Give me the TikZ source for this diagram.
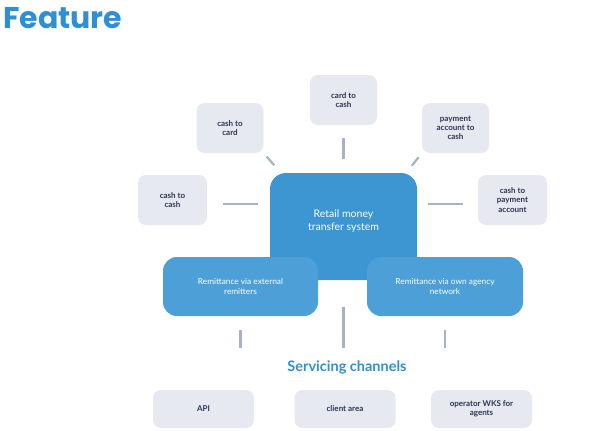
\documentclass[tikz,border=0pt]{standalone}
\usepackage{fontspec}
\setmainfont{Lato}
\newfontfamily\headfont{Poppins}
\usetikzlibrary{arrows.meta}

\definecolor{headblue}{HTML}{2F8FD5}
\definecolor{sysblue}{HTML}{3D95D1}
\definecolor{remitblue}{HTML}{4C9FD7}
\definecolor{boxgray}{HTML}{E6E9F0}
\definecolor{linkgray}{HTML}{A8B2C7}
\definecolor{labelnavy}{HTML}{2D3553}

\tikzset{
	optbox/.style={fill=boxgray, rounded corners=8pt, minimum width=67pt, minimum height=50pt,
		inner sep=2pt, align=center, text=labelnavy, font=\bfseries\fontsize{8}{9.3}\selectfont},
	chanbox/.style={optbox, minimum width=101pt, minimum height=38pt},
	sysbox/.style={fill=sysblue, rounded corners=16pt, align=center, text=white,
		font=\fontsize{10.5}{12.5}\selectfont},
	remitbox/.style={fill=remitblue, rounded corners=14pt, minimum width=155pt, minimum height=59pt,
		align=center, text=white, font=\fontsize{8.3}{10}\selectfont},
	link/.style={draw=linkgray, line width=2.2pt},
}

\begin{document}
\begin{tikzpicture}[x=1pt, y=-1pt]
			\useasboundingbox (0, 0) rectangle (600, 431);
			
			\node[anchor=west, inner sep=0pt, text=headblue, font=\headfont\bfseries\fontsize{30}{31}\selectfont] (title) at (3, 18) {Feature};
			
			% Centre
			\node[sysbox, minimum width=147pt, minimum height=107pt] (central) at (343.5, 226.5) {Retail money\\transfer system\\[0pt]};
			\node[remitbox] (ext) at (240.5, 286.5) {Remittance via external\\remitters};
			\node[remitbox, minimum width=156pt] (own) at (445, 286.5) {Remittance via own agency\\network};
			
			% Transfer types
			\node[optbox] (cashcard) at (230, 128) {cash to\\card};
			\node[optbox] (cardcash) at (343.5, 100) {card to\\cash};
			\node[optbox] (paycash) at (455.5, 128) {payment\\account to\\cash};
			\node[optbox, minimum width=69pt] (cashcash) at (172.5, 200) {cash to\\cash};
			\node[optbox, minimum width=69pt] (cashpay) at (512.5, 200) {cash to\\payment\\account};
			
			\draw[link, shorten <=16pt, shorten >=12pt] ([yshift=-4pt]cashcash.east) -- ([yshift=-4pt]cashcash.east -| central.west);
			\draw[link, shorten <=15pt, shorten >=11pt] ([yshift=-4pt]cashpay.west) -- ([yshift=-4pt]cashpay.west -| central.east);
			\draw[link, shorten <=13pt, shorten >=14pt] (cardcash.south) -- (central.north);
			\draw[link, shorten <=4.5pt, shorten >=10pt] (cashcard.south east) -- ([xshift=11pt]central.north west);
			\draw[link, shorten <=5pt, shorten >=9pt] (paycash.south west) -- ([xshift=-11pt]central.north east);
			
			% Servicing channels
			\node[inner sep=0pt, text=headblue, font=\bfseries\fontsize{14.5}{16}\selectfont] (channels) at (347, 367) {Servicing channels};
			
			\node[chanbox] (api) at (203.5, 409) {API};
			\node[chanbox] (client) at (345, 409) {client area};
			\node[chanbox] (operator) at (481.5, 409) {operator WKS for\\agents};
			
			\draw[link, shorten <=27pt, shorten >=12pt] (central.south) -- (central.south |- channels.north);
			\draw[link, shorten <=14pt, shorten >=12pt] (ext.south) -- (ext.south |- channels.north);
			\draw[link, shorten <=14pt, shorten >=12pt] (own.south) -- (own.south |- channels.north);
			
\end{tikzpicture}
\end{document}
